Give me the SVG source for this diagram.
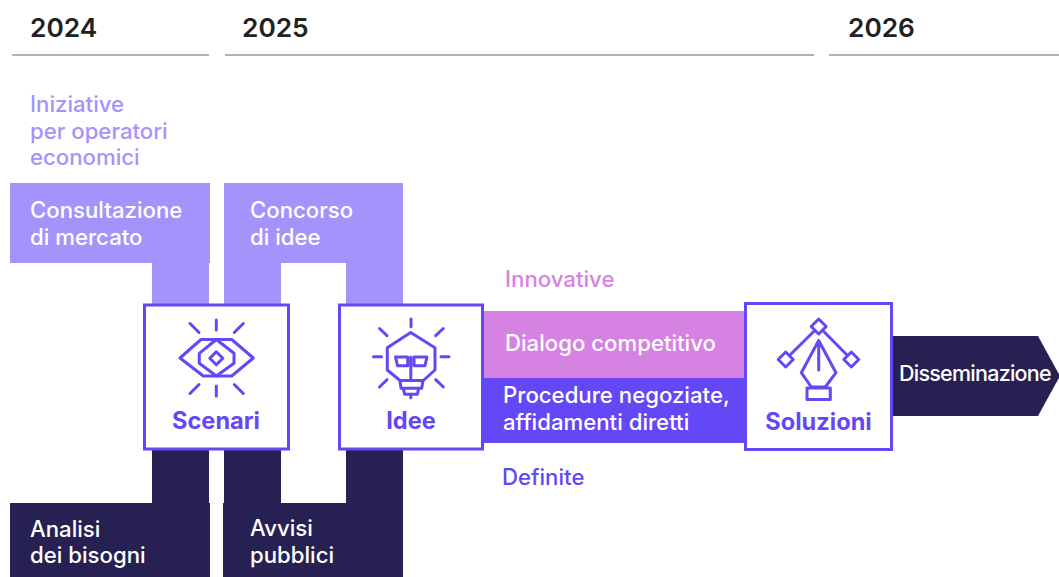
<svg xmlns="http://www.w3.org/2000/svg" width="1059" height="577" viewBox="0 0 1059 577">
<style>
text{font-family:"Inter","Liberation Sans",sans-serif;font-size:22.2px;font-weight:500;fill:#fff}
.yr{font-size:26.3px;font-weight:600;fill:#222}
.lilac{fill:#a593fc}.pink{fill:#d682e2}.blue{fill:#6448f6}.dark{fill:#272052}
text.t-lilac{fill:#a593fc}text.t-pink{fill:#d682e2}text.t-blue{fill:#6448f6}
.box{fill:#fff;stroke:#6448f6;stroke-width:3}
.ic{fill:none;stroke:#6448f6;stroke-width:3;stroke-linecap:round;stroke-linejoin:round}
text.nm{font-size:23.600px;font-weight:700;fill:#6448f6;text-anchor:middle}
.rule{stroke:#999;stroke-width:1.5;fill:none}
</style>
<g id="timeline">
<path class="rule" d="M12 55H209M225 55H814M829 55H1059"/>
<text class="yr" x="30" y="37">2024</text>
<text class="yr" x="242" y="37">2025</text>
<text class="yr" x="848" y="37">2026</text>
</g>
<g id="label-iniziative"><text class="t-lilac" x="30" y="112">Iniziative</text><text class="t-lilac" x="30" y="139">per operatori</text><text class="t-lilac" x="30" y="165">economici</text></g>
<g id="connectors">
<rect class="lilac" x="152" y="263" width="57" height="42"/>
<rect class="lilac" x="224" y="263" width="57" height="42"/>
<rect class="lilac" x="346" y="263" width="57" height="42"/>
<rect class="dark" x="152" y="449" width="57" height="55"/>
<rect class="dark" x="224" y="449" width="57" height="55"/>
<rect class="dark" x="346" y="449" width="57" height="55"/>
</g>
<g id="consultazione"><rect class="lilac" x="10" y="183" width="200" height="80"/><text x="30" y="218">Consultazione</text><text x="30" y="245">di mercato</text></g>
<g id="concorso"><rect class="lilac" x="224" y="183" width="179" height="80"/><text x="250" y="218">Concorso</text><text x="250" y="245">di idee</text></g>
<g id="analisi"><rect class="dark" x="10" y="503" width="200" height="74"/><text x="30" y="537">Analisi</text><text x="30" y="563">dei bisogni</text></g>
<g id="avvisi"><rect class="dark" x="223" y="503" width="180" height="74"/><text x="250" y="536">Avvisi</text><text x="250" y="563">pubblici</text></g>
<g id="innovative"><text class="t-pink" x="505" y="287">Innovative</text><rect class="pink" x="484" y="311" width="261" height="67"/><text x="505" y="351">Dialogo competitivo</text></g>
<g id="definite"><rect class="blue" x="484" y="378" width="261" height="65"/><text x="503" y="403">Procedure negoziate,</text><text x="503" y="430">affidamenti diretti</text><text class="t-blue" x="502" y="485">Definite</text></g>
<g id="disseminazione"><path class="dark" d="M892 336H1038L1060 376L1038 416H892Z"/><text x="899" y="381" style="font-size:21.5px;letter-spacing:-.75px">Disseminazione</text></g>
<g id="scenari"><rect class="box" x="144.500" y="305" width="144" height="144"/>
<path class="ic" d="M180 358L201 339.500H231.700L253.300 358L231.700 376H203.300Z"/>
<path class="ic" d="M216.300 339.500L234 353.300V363.300L216.300 376L199.300 363.300V353.300Z"/>
<path class="ic" d="M216.300 351.800L222.800 358.300L216.300 364.800L209.800 358.300Z"/>
<path class="ic" d="M216.300 320V330M216.300 386V396M190 323.500L199 332.500M243.300 323.500L234.300 332.500M199 384.500L190 393.500M234.300 384.500L243.300 393.500"/>
<text class="nm" x="216" y="429">Scenari</text></g>
<g id="idee"><rect class="box" x="339.500" y="305" width="143" height="144"/>
<path class="ic" d="M410.700 332.500L435 347.700V370L423.300 380.500H400L387.300 370V347.700Z"/>
<path class="ic" d="M395.500 357H407.700V365.700H397.500ZM414 357H427L425 365.700H414ZM410.800 357V380"/>
<path class="ic" d="M400 380.500L401 388.300H421.700L423 380.500M403.300 388.300L404.700 394.300H417.300L418.700 388.300M410.800 394.300V397.700"/>
<path class="ic" d="M411 319V326.700M373.500 356.700H381.500M441 356.700H449M379.500 328.500L387 335.700M443.300 328.500L435.700 335.700M387 379.700L379.500 387M435.700 379.700L443.300 387"/>
<text class="nm" x="411" y="429">Idee</text></g>
<g id="soluzioni"><rect class="box" x="745.500" y="303.500" width="146" height="146"/>
<path class="ic" d="M818.700 319L826.200 326.500L818.700 334L811.200 326.500Z"/>
<path class="ic" d="M785.700 352L793.200 359.500L785.700 367L778.200 359.500Z"/>
<path class="ic" d="M851.300 352L858.800 359.500L851.300 367L843.800 359.500Z"/>
<path class="ic" d="M813.700 331.500L790.500 354.500M823.700 331.500L846.500 354.500"/>
<path class="ic" d="M818.700 340.500L836 372.700L825.300 387H811.300L801.300 372.700ZM818.700 340.500V370"/>
<rect class="ic" x="807" y="388" width="23.300" height="11.500"/>
<text class="nm" x="818.500" y="430">Soluzioni</text></g>
</svg>
